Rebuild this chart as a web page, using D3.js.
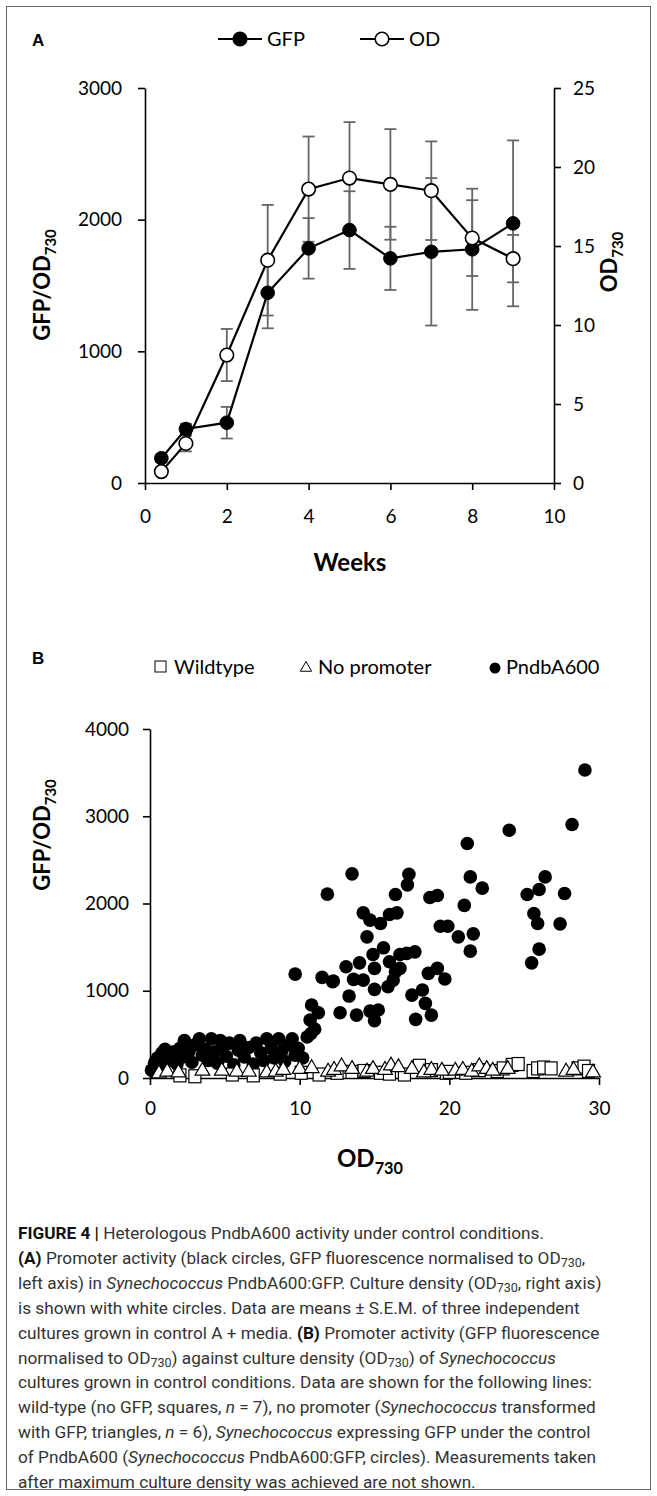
<!DOCTYPE html>
<html>
<head>
<meta charset="utf-8">
<script src="https://cdn.jsdelivr.net/npm/d3@7"></script>
<style>
  body { margin: 0; background: #fff; }
  svg { display: block; }
  .axis path, .axis line { stroke: #000; stroke-width: 1.6; }
  .axis text { font-family: Lato, "Open Sans", sans-serif; font-size: 19px; fill: #000; }
</style>
</head>
<body>
<svg width="657" height="1496"></svg>
<script>
// ---- panel A : time course ----
var weeks  = [0.4, 1, 2, 3, 4, 5, 6, 7, 8, 9];
var gfp    = [188, 410, 458, 1445, 1782, 1921, 1706, 1756, 1775, 1972];
var gfpErr = [30, 40, 120, 270, 230, 295, 240, 560, 460, 630];
var od     = [0.72, 2.5, 8.1, 14.1, 18.6, 19.3, 18.9, 18.5, 15.5, 14.2];
var odErr  = [0.2, 0.5, 1.65, 3.5, 3.33, 3.54, 3.5, 3.12, 2.4, 1.5];
var weekTicks = [0, 2, 4, 6, 8, 10];
var gfpTicksA = [0, 1000, 2000, 3000];
var odTicksA  = [0, 5, 10, 15, 20, 25];

// ---- panel B : GFP/OD vs OD, [OD730, GFP/OD730] ----
var wildtype = [[2.0,30],[3.0,20],[5.5,40],[6.9,30],[8.7,50],[10.1,60],[11.3,40],[12.5,60],[13.5,70],
  [14.3,80],[15.4,60],[16.0,50],[17.0,40],[18.0,140],[18.8,90],[19.8,60],[20.0,70],[21.1,60],[22.0,90],
  [23.2,80],[23.6,110],[24.2,150],[24.6,160],[25.6,80],[25.9,110],[26.3,120],[26.8,110],[28.6,110],
  [29.0,130],[29.3,80]];
var noPromoter = [[0.6,40],[1.15,60],[1.9,50],[3.5,70],[4.8,70],[5.8,60],[6.6,60],[7.8,50],[8.4,60],
  [8.9,80],[10.0,90],[10.8,100],[11.9,60],[12.3,80],[12.8,120],[13.5,90],[14.5,60],[14.9,90],[15.7,80],
  [16.1,130],[16.6,110],[17.5,90],[18.3,50],[18.8,80],[19.5,70],[20.4,70],[20.9,80],[21.5,60],[22.0,120],
  [22.5,90],[22.9,70],[23.9,90],[27.8,60],[28.3,80],[29.6,50]];
var pndbA600 = [[0.1,90],[0.3,170],[0.5,230],[0.6,120],[0.8,290],[1.0,330],[1.2,200],[1.4,260],[1.6,300],
  [1.8,160],[2.0,340],[2.2,240],[2.3,430],[2.6,300],[2.8,180],[3.0,380],[3.3,450],[3.5,260],[3.7,330],
  [3.9,200],[4.1,450],[4.3,300],[4.5,170],[4.7,430],[4.9,360],[5.1,250],[5.3,400],[5.6,150],[5.9,320],
  [6.0,430],[6.3,240],[6.6,350],[6.9,160],[7.1,400],[7.4,290],[7.6,200],[7.8,450],[8.1,340],[8.3,230],
  [8.6,450],[8.8,310],[9.0,190],[9.3,380],[9.5,450],[9.7,260],[9.9,340],[10.2,230],[10.5,470],[10.75,510],
  [9.7,1190],[10.8,836],[11.25,748],[10.7,664],[11.5,1153],[12.2,1103],[11.0,560],
  [11.85,2107],[13.5,2340],[17.3,2336],[17.2,2214],[21.2,2688],[21.4,2305],[22.2,2176],[24.0,2840],
  [28.2,2905],[29.06,3530],[26.4,2305],[26.0,2161],[25.2,2103],[27.7,2115],[16.4,2103],[18.7,2069],
  [19.2,2092],[21.0,1978],[14.25,1893],[14.7,1809],[15.4,1771],[16.0,1874],[16.5,1893],[25.65,1886],
  [25.9,1771],[27.4,1767],[19.4,1740],[19.9,1740],[20.6,1618],[21.6,1652],[21.4,1454],[14.5,1618],
  [15.6,1492],[14.9,1416],[16.7,1416],[17.7,1446],[17.15,1428],[26.0,1477],[25.5,1320],[13.1,1275],
  [14.0,1320],[13.6,1130],[14.25,1122],[15.0,1256],[16.0,1332],[16.4,1217],[16.7,1256],[16.25,1122],
  [15.9,1046],[15.0,1016],[12.25,1111],[18.6,1199],[19.2,1256],[19.7,1134],[13.3,939],[18.2,1008],
  [17.5,950],[18.4,855],[12.7,748],[13.8,721],[14.7,767],[15.25,779],[15.0,656],[17.75,672],[18.8,721]];
var odTicksB  = [0, 10, 20, 30];
var gfpTicksB = [0, 1000, 2000, 3000, 4000];

var svg = d3.select("svg");
var chartFont = "Lato, 'Open Sans', sans-serif";
var fmt = d3.format("d");

// frame around the whole figure
svg.append("rect")
  .attr("x", 6.5).attr("y", 6.5).attr("width", 644).attr("height", 1483)
  .attr("fill", "none").attr("stroke", "#666").attr("stroke-width", 1);

// helper: label with a subscript
function subLabel(g, main, sub, size) {
  g.append("tspan").text(main);
  g.append("tspan").text(sub).attr("font-size", size * 0.68).attr("dy", size * 0.28);
}

// =================== PANEL A ===================
var xA  = d3.scaleLinear().domain([0, 10]).range([145, 554]);
var yA  = d3.scaleLinear().domain([0, 3000]).range([483, 88]);
var yA2 = d3.scaleLinear().domain([0, 25]).range([483, 88]);

svg.append("g").attr("class", "axis")
  .attr("transform", "translate(0,483)")
  .call(d3.axisBottom(xA).tickValues(weekTicks).tickFormat(fmt).tickSize(7).tickSizeOuter(0).tickPadding(20));
svg.append("g").attr("class", "axis")
  .attr("transform", "translate(145,0)")
  .call(d3.axisLeft(yA).tickValues(gfpTicksA).tickFormat(fmt).tickSize(7).tickSizeOuter(0).tickPadding(16));
svg.append("g").attr("class", "axis")
  .attr("transform", "translate(554,0)")
  .call(d3.axisRight(yA2).tickValues(odTicksA).tickFormat(fmt).tickSize(7).tickSizeOuter(0).tickPadding(12));

// error bars
var errColor = "#666";
function errBars(vals, errs, scale) {
  var g = svg.append("g").attr("stroke", errColor).attr("stroke-width", 1.8);
  weeks.forEach(function(w, i) {
    var x = xA(w), y1 = scale(vals[i] - errs[i]), y2 = scale(vals[i] + errs[i]);
    g.append("line").attr("x1", x).attr("x2", x).attr("y1", y1).attr("y2", y2);
    g.append("line").attr("x1", x - 6).attr("x2", x + 6).attr("y1", y1).attr("y2", y1);
    g.append("line").attr("x1", x - 6).attr("x2", x + 6).attr("y1", y2).attr("y2", y2);
  });
}
errBars(gfp, gfpErr, yA);
errBars(od, odErr, yA2);

var lineGfp = d3.line().x(function(d, i) { return xA(weeks[i]); }).y(function(d) { return yA(d); });
var lineOd  = d3.line().x(function(d, i) { return xA(weeks[i]); }).y(function(d) { return yA2(d); });
svg.append("path").datum(od).attr("d", lineOd).attr("fill", "none").attr("stroke", "#000").attr("stroke-width", 2.2);
svg.append("path").datum(gfp).attr("d", lineGfp).attr("fill", "none").attr("stroke", "#000").attr("stroke-width", 2.2);

svg.append("g").selectAll("circle").data(gfp).enter().append("circle")
  .attr("cx", function(d, i) { return xA(weeks[i]); })
  .attr("cy", function(d) { return yA(d); })
  .attr("r", 6.8).attr("fill", "#000").attr("stroke", "#000");
svg.append("g").selectAll("circle").data(od).enter().append("circle")
  .attr("cx", function(d, i) { return xA(weeks[i]); })
  .attr("cy", function(d) { return yA2(d); })
  .attr("r", 6.8).attr("fill", "#fff").attr("stroke", "#000").attr("stroke-width", 1.6);

// panel letter + legend
svg.append("text").attr("x", 32).attr("y", 46).text("A")
  .attr("font-family", "Arial, 'Liberation Sans', sans-serif").attr("font-weight", "bold").attr("font-size", 17);

var legA = [{name: "GFP", fill: "#000", x: 218}, {name: "OD", fill: "#fff", x: 360}];
legA.forEach(function(l) {
  var g = svg.append("g").attr("transform", "translate(" + l.x + ",39)");
  g.append("line").attr("x1", 0).attr("x2", 44).attr("stroke", "#000").attr("stroke-width", 2.2);
  g.append("circle").attr("cx", 22).attr("r", 6.8).attr("fill", l.fill).attr("stroke", "#000").attr("stroke-width", 1.6);
  g.append("text").attr("x", 49).attr("y", 7).text(l.name)
    .attr("font-family", chartFont).attr("font-size", 20);
});

// axis titles
var tA = svg.append("text").attr("transform", "translate(50,285) rotate(-90)")
  .attr("text-anchor", "middle").attr("font-family", chartFont).attr("font-weight", "bold").attr("font-size", 22);
subLabel(tA, "GFP/OD", "730", 22);
var tA2 = svg.append("text").attr("transform", "translate(617,262) rotate(-90)")
  .attr("text-anchor", "middle").attr("font-family", chartFont).attr("font-weight", "bold").attr("font-size", 22);
subLabel(tA2, "OD", "730", 22);
svg.append("text").attr("x", 350).attr("y", 571).attr("text-anchor", "middle")
  .attr("font-family", chartFont).attr("font-weight", "bold").attr("font-size", 24).text("Weeks");

// =================== PANEL B ===================
var xB = d3.scaleLinear().domain([0, 30]).range([150, 599]);
var yB = d3.scaleLinear().domain([0, 4000]).range([1078, 729]);

svg.append("g").attr("class", "axis")
  .attr("transform", "translate(0,1078)")
  .call(d3.axisBottom(xB).tickValues(odTicksB).tickFormat(fmt).tickSize(7).tickSizeOuter(0).tickPadding(17));
svg.append("g").attr("class", "axis")
  .attr("transform", "translate(150,0)")
  .call(d3.axisLeft(yB).tickValues(gfpTicksB).tickFormat(fmt).tickSize(7).tickSizeOuter(0).tickPadding(14));

svg.append("g").selectAll("circle").data(pndbA600).enter().append("circle")
  .attr("cx", function(d) { return xB(d[0]); })
  .attr("cy", function(d) { return yB(d[1]); })
  .attr("r", 6.8).attr("fill", "#000");

svg.append("g").selectAll("rect").data(wildtype).enter().append("rect")
  .attr("x", function(d) { return xB(d[0]) - 6; })
  .attr("y", function(d) { return yB(d[1]) - 6.5; })
  .attr("width", 12).attr("height", 13)
  .attr("fill", "#fff").attr("stroke", "#000").attr("stroke-width", 1.2);

var tri = d3.symbol().type(d3.symbolTriangle).size(95);
svg.append("g").selectAll("path").data(noPromoter).enter().append("path")
  .attr("d", tri)
  .attr("transform", function(d) { return "translate(" + xB(d[0]) + "," + (yB(d[1]) - 1) + ")"; })
  .attr("fill", "#fff").attr("stroke", "#000").attr("stroke-width", 1.2);

svg.append("text").attr("x", 32).attr("y", 664).text("B")
  .attr("font-family", "Arial, 'Liberation Sans', sans-serif").attr("font-weight", "bold").attr("font-size", 17);

// legend B
var legB = svg.append("g").attr("font-family", chartFont).attr("font-size", 20);
legB.append("rect").attr("x", 155).attr("y", 661).attr("width", 11).attr("height", 11)
  .attr("fill", "#fff").attr("stroke", "#000").attr("stroke-width", 1);
legB.append("text").attr("x", 174).attr("y", 674).text("Wildtype");
legB.append("path").attr("d", d3.symbol().type(d3.symbolTriangle).size(55))
  .attr("transform", "translate(306,668)").attr("fill", "#fff").attr("stroke", "#000").attr("stroke-width", 1);
legB.append("text").attr("x", 318).attr("y", 674).text("No promoter");
legB.append("circle").attr("cx", 495).attr("cy", 668).attr("r", 5.5).attr("fill", "#000");
legB.append("text").attr("x", 506).attr("y", 674).text("PndbA600");

var tB = svg.append("text").attr("transform", "translate(50,835) rotate(-90)")
  .attr("text-anchor", "middle").attr("font-family", chartFont).attr("font-weight", "bold").attr("font-size", 22);
subLabel(tB, "GFP/OD", "730", 22);
var tB2 = svg.append("text").attr("x", 370).attr("y", 1167).attr("text-anchor", "middle")
  .attr("font-family", chartFont).attr("font-weight", "bold").attr("font-size", 24);
subLabel(tB2, "OD", "730", 24);

// =================== CAPTION ===================
var captionLines = [
  [["FIGURE 4 | ", "b"], ["Heterologous PndbA600 activity under control conditions.", ""]],
  [["(A) ", "b"], ["Promoter activity (black circles, GFP fluorescence normalised to OD", ""], ["730", "s"], [",", ""]],
  [["left axis) in ", ""], ["Synechococcus", "i"], [" PndbA600:GFP. Culture density (OD", ""], ["730", "s"], [", right axis)", ""]],
  [["is shown with white circles. Data are means \u00b1 S.E.M. of three independent", ""]],
  [["cultures grown in control A + media. ", ""], ["(B) ", "b"], ["Promoter activity (GFP fluorescence", ""]],
  [["normalised to OD", ""], ["730", "s"], [") against culture density (OD", ""], ["730", "s"], [") of ", ""], ["Synechococcus", "i"]],
  [["cultures grown in control conditions. Data are shown for the following lines:", ""]],
  [["wild-type (no GFP, squares, ", ""], ["n", "i"], [" = 7), no promoter (", ""], ["Synechococcus", "i"], [" transformed", ""]],
  [["with GFP, triangles, ", ""], ["n", "i"], [" = 6), ", ""], ["Synechococcus", "i"], [" expressing GFP under the control", ""]],
  [["of PndbA600 (", ""], ["Synechococcus", "i"], [" PndbA600:GFP, circles). Measurements taken", ""]],
  [["after maximum culture density was achieved are not shown.", ""]]
];

var cap = svg.append("g").attr("font-family", "Roboto, 'Liberation Sans', sans-serif")
  .attr("font-size", 17.2).attr("fill", "#333");
captionLines.forEach(function(line, i) {
  var t = cap.append("text").attr("x", 18).attr("y", 1239 + i * 24.9);
  line.forEach(function(seg) {
    var s = t.append("tspan").text(seg[0]);
    if (seg[1] === "b") s.attr("font-weight", "bold").attr("fill", "#111");
    if (seg[1] === "i") s.attr("font-style", "italic");
    if (seg[1] === "s") s.attr("font-size", 12.5).attr("baseline-shift", "-20%");
  });
});
</script>
</body>
</html>
